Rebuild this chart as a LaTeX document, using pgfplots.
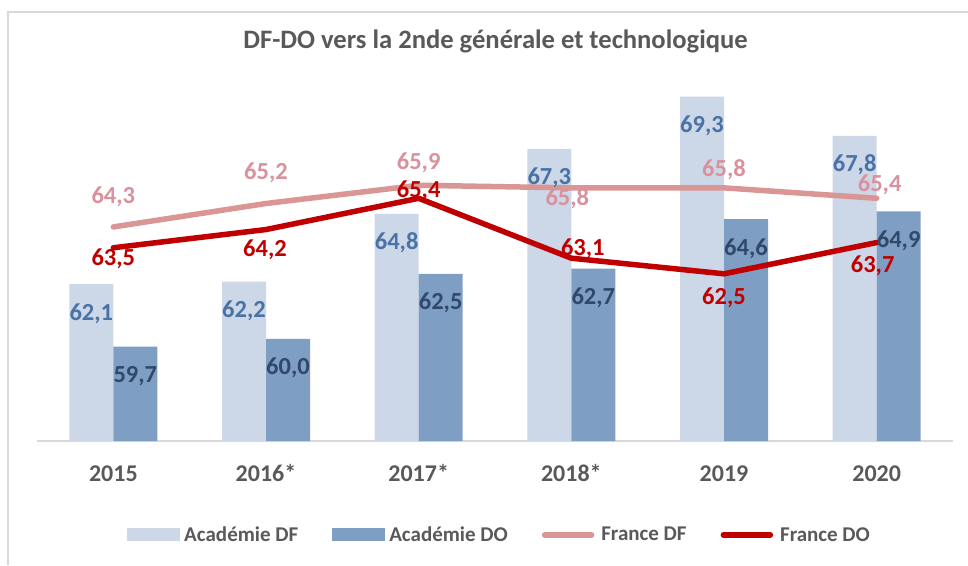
\documentclass[border=0pt]{standalone}
\usepackage{pgfplots}
\pgfplotsset{compat=1.18}
\usepackage{pgfplotstable}
\usepackage{fontspec}
\setmainfont{Carlito}

\definecolor{acaddf}{HTML}{CCD7E7}
\definecolor{acaddo}{HTML}{7F9EC3}
\definecolor{frdf}{HTML}{D99694}
\definecolor{frdflab}{HTML}{D9929D}
\definecolor{frdo}{HTML}{C00000}
\definecolor{labdf}{HTML}{4A72A6}
\definecolor{labdo}{HTML}{30496A}
\definecolor{txt}{HTML}{595959}
\definecolor{frame}{HTML}{D9D9D9}

% dxf/dyf, dxo/dyo: where the line labels sit, in pt from the point
\pgfplotstableread{
x ad   ado  fdf  fdo  dxf dyf   dxo  dyo
0 62.1 59.7 64.3 63.5 0   23    0    -17.5
1 62.2 60.0 65.2 64.2 0   23.5  -1   -26.7
2 64.8 62.5 65.9 65.4 0   15.6  0    1
3 67.3 62.7 65.8 63.1 -4  -17.4 11.5 3
4 69.3 64.6 65.8 62.5 0   11.6  0    -31
5 67.8 64.9 65.4 63.7 3   7     -4   -30.4
}\data

\begin{document}
\begin{tikzpicture}
\path[use as bounding box] (0,0) rectangle (968pt,565pt);
\draw[frame, line width=1.5pt] (8pt,0pt) -- (8pt,553pt) -- (968pt,553pt);
\node[anchor=base, text=txt, font=\fontsize{26.6}{30}\selectfont\bfseries]
  at (495.5pt,516pt) {DF-DO vers la 2nde générale et technologique};

\begin{axis}[
    at={(37pt,124pt)}, anchor=south west,
    width=916pt, height=362.5pt, scale only axis,
    xmin=-0.5, xmax=5.5, ymin=56.08, ymax=70,
    axis x line*=bottom, axis y line=none,
    x axis line style={frame, line width=1.5pt},
    xtick=data, xticklabels={2015,2016*,2017*,2018*,2019,2020},
    major tick length=0pt,
    xticklabel style={anchor=base, yshift=-40pt, text=txt,
        font=\fontsize{24}{28}\selectfont\bfseries},
    /pgf/number format/.cd, use comma, fixed, fixed zerofill, precision=1,
        assume math mode=true,
    /pgfplots/.cd,
    legend columns=4,
    legend style={at={(0.505,-0.259)}, anchor=center, draw=none, fill=none,
        text=txt, font=\fontsize{21}{25}\selectfont\bfseries,
        nodes={inner sep=2pt},
        /tikz/every even column/.append style={column sep=32pt}},
]
\addplot[ybar, bar width=44pt, bar shift=-22pt, fill=acaddf, draw=none,
    nodes near coords,
    every node near coord/.append style={anchor=base, xshift=-22pt, yshift=-36pt,
        text=labdf, font=\fontsize{24.5}{28}\selectfont\bfseries},
    legend image code/.code={\fill[acaddf] (0pt,-6.5pt) rectangle (53pt,6.5pt);
        \path (55pt,0pt);}]
    table[x=x, y=ad] {\data};
\addlegendentry{Académie DF}
\addplot[ybar, bar width=44pt, bar shift=22pt, fill=acaddo, draw=none,
    nodes near coords,
    every node near coord/.append style={anchor=base, xshift=22pt, yshift=-36pt,
        text=labdo, font=\fontsize{24.5}{28}\selectfont\bfseries},
    legend image code/.code={\fill[acaddo] (0pt,-6.5pt) rectangle (53pt,6.5pt);
        \path (55pt,0pt);}]
    table[x=x, y=ado] {\data};
\addlegendentry{Académie DO}
\addplot[frdf, line width=5.5pt, line join=round, line cap=round, mark=none,
    nodes near coords,
    visualization depends on={\thisrow{dxf} \as \dx},
    visualization depends on={\thisrow{dyf} \as \dy},
    every node near coord/.append style={anchor=base, xshift=\dx pt, yshift=\dy pt,
        text=frdflab, font=\fontsize{24.5}{28}\selectfont\bfseries},
    legend image code/.code={\draw[frdf, line width=5.5pt, line cap=round] (3pt,0pt) -- (50pt,0pt);
        \path (55pt,0pt);}]
    table[x=x, y=fdf] {\data};
\addlegendentry{France DF}
\addplot[frdo, line width=5.5pt, line join=round, line cap=round, mark=none,
    nodes near coords,
    visualization depends on={\thisrow{dxo} \as \dx},
    visualization depends on={\thisrow{dyo} \as \dy},
    every node near coord/.append style={anchor=base, xshift=\dx pt, yshift=\dy pt,
        text=frdo, font=\fontsize{24.5}{28}\selectfont\bfseries},
    legend image code/.code={\draw[frdo, line width=5.5pt, line cap=round] (3pt,0pt) -- (50pt,0pt);
        \path (55pt,0pt);}]
    table[x=x, y=fdo] {\data};
\addlegendentry{France DO}
\end{axis}
\end{tikzpicture}
\end{document}
